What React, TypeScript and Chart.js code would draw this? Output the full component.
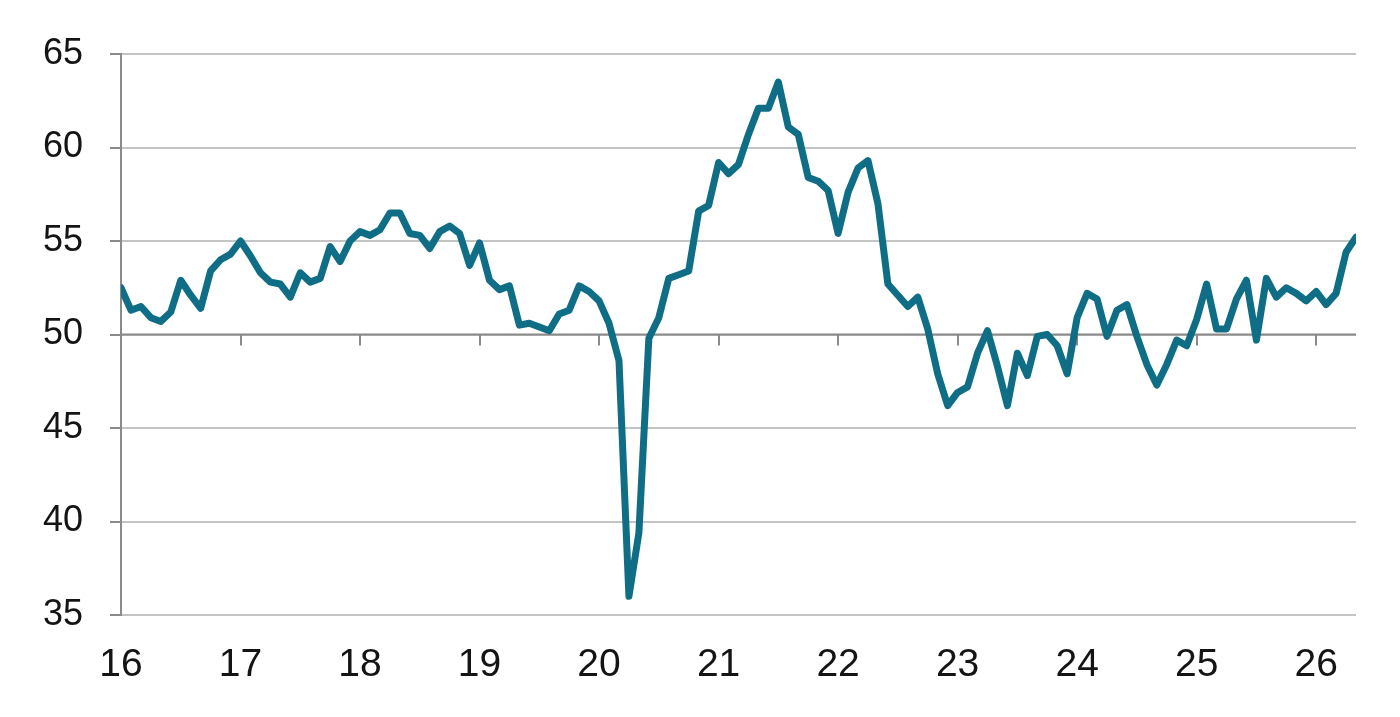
import React, { useEffect, useRef } from 'react';
import { Chart, registerables } from 'chart.js';

Chart.register(...registerables);

// Year labels shown under the chart (one per January)
const yearLabels = ['16', '17', '18', '19', '20', '21', '22', '23', '24', '25', '26'];
const monthsPerYear = 12;

// Monthly index readings, Jan 2016 onward
const indexValues = [
  52.5, 51.3, 51.5, 50.9, 50.7, 51.2, 52.9, 52.1, 51.4, 53.4, 54.0, 54.3,
  55.0, 54.2, 53.3, 52.8, 52.7, 52.0, 53.3, 52.8, 53.0, 54.7, 53.9, 55.0,
  55.5, 55.3, 55.6, 56.5, 56.5, 55.4, 55.3, 54.6, 55.5, 55.8, 55.4, 53.7,
  54.9, 52.9, 52.4, 52.6, 50.5, 50.6, 50.4, 50.2, 51.1, 51.3, 52.6, 52.3,
  51.8, 50.6, 48.6, 36.0, 39.4, 49.8, 50.9, 53.0, 53.2, 53.4, 56.6, 56.9,
  59.2, 58.6, 59.1, 60.7, 62.1, 62.1, 63.5, 61.1, 60.7, 58.4, 58.2, 57.7,
  55.4, 57.6, 58.9, 59.3, 57.0, 52.7, 52.1, 51.5, 52.0, 50.3, 47.9, 46.2,
  46.9, 47.2, 49.0, 50.2, 48.3, 46.2, 49.0, 47.8, 49.9, 50.0, 49.4, 47.9,
  50.9, 52.2, 51.9, 49.9, 51.3, 51.6, 49.9, 48.4, 47.3, 48.4, 49.7, 49.4,
  50.8, 52.7, 50.3, 50.3, 51.9, 52.9, 49.7, 53.0, 52.0, 52.5, 52.2, 51.8,
  52.3, 51.6, 52.2, 54.4, 55.2,
];

// Value axis range and the level where the horizontal axis line sits
const yMin = 35;
const yMax = 65;
const yStep = 5;
const crossingLevel = 50;

const LINE_COLOR = '#0f6e86';
const GRID_COLOR = '#c4c4c4';
const AXIS_COLOR = '#8a8a8a';
const TEXT_COLOR = '#141414';
const FONT_FAMILY = '"Liberation Sans", Arial, sans-serif';

// Draws the horizontal axis line at the crossing level with year tick marks hanging below it
const crossingAxisPlugin = {
  id: 'crossingAxis',
  beforeDatasetsDraw(chart: any) {
    const { ctx, chartArea, scales } = chart;
    const y = scales.y.getPixelForValue(crossingLevel);
    ctx.save();
    ctx.strokeStyle = AXIS_COLOR;
    ctx.lineWidth = 2;
    ctx.beginPath();
    ctx.moveTo(chartArea.left, y);
    ctx.lineTo(chartArea.right, y);
    scales.x.ticks.forEach((t: any) => {
      const x = Math.round(scales.x.getPixelForValue(t.value));
      ctx.moveTo(x, y);
      ctx.lineTo(x, y + 11);
    });
    ctx.stroke();
    ctx.restore();
  },
};

export default function App() {
  const canvasRef = useRef<HTMLCanvasElement | null>(null);

  useEffect(() => {
    const canvas = canvasRef.current;
    if (!canvas) return;
    const points = indexValues.map((v, i) => ({ x: i, y: v }));
    const chart = new Chart(canvas, {
      type: 'line',
      data: {
        datasets: [
          {
            data: points,
            borderColor: LINE_COLOR,
            borderWidth: 7,
            pointRadius: 0,
            tension: 0,
            borderJoinStyle: 'round',
            borderCapStyle: 'round',
            fill: false,
          },
        ],
      },
      options: {
        animation: false,
        responsive: false,
        maintainAspectRatio: false,
        layout: { padding: { top: 54, right: 44, left: 0, bottom: 0 } },
        plugins: {
          legend: { display: false },
          tooltip: { enabled: false },
        },
        scales: {
          x: {
            type: 'linear',
            min: 0,
            max: indexValues.length - 1,
            afterBuildTicks: (scale: any) => {
              scale.ticks = yearLabels.map((_, k) => ({ value: k * monthsPerYear }));
            },
            afterFit: (scale: any) => {
              scale.height = 102;
            },
            grid: { display: false, drawTicks: false },
            border: { display: false },
            ticks: {
              autoSkip: false,
              maxRotation: 0,
              minRotation: 0,
              padding: 27,
              color: TEXT_COLOR,
              font: { family: FONT_FAMILY, size: 39 },
              callback: (_v: any, index: number) => yearLabels[index],
            },
          },
          y: {
            min: yMin,
            max: yMax,
            afterFit: (scale: any) => {
              scale.width = 121;
            },
            ticks: {
              stepSize: yStep,
              padding: 27,
              color: TEXT_COLOR,
              font: { family: FONT_FAMILY, size: 36 },
            },
            grid: {
              color: GRID_COLOR,
              lineWidth: 2,
              tickColor: AXIS_COLOR,
              tickLength: 11,
            },
            border: { color: AXIS_COLOR, width: 2 },
          },
        },
      },
      plugins: [crossingAxisPlugin],
    } as any);
    return () => chart.destroy();
  }, []);

  return (
    <div style={{ position: 'fixed', left: 0, top: 0, width: 1400, height: 717, background: '#ffffff' }}>
      <canvas ref={canvasRef} width={1400} height={717} style={{ display: 'block' }} />
    </div>
  );
}
